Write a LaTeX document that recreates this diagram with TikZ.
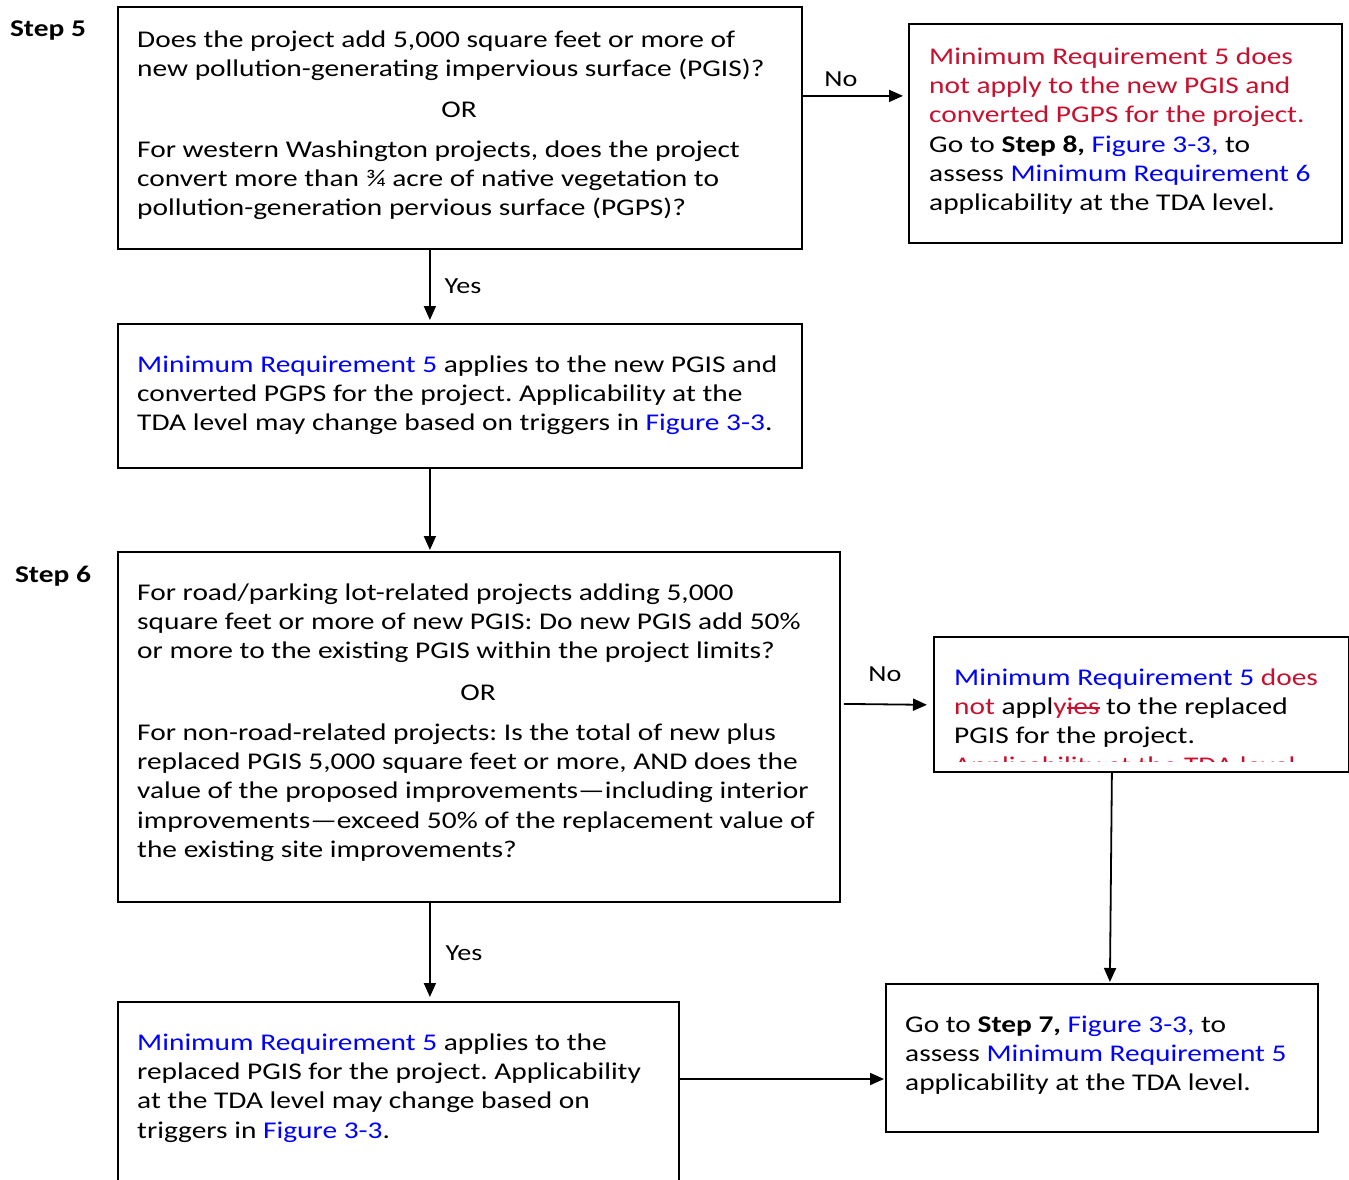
\documentclass[tikz,border=0pt]{standalone}
\usepackage{fontspec}
\setmainfont{Carlito}[FakeStretch=1.225]
\usetikzlibrary{arrows.meta,calc}
\definecolor{mrblue}{RGB}{0,0,255}
\definecolor{mrred}{RGB}{200,16,46}
\newcommand\bl[1]{\textcolor{mrblue}{#1}}
\newcommand\rd[1]{\textcolor{mrred}{#1}}
\newcommand\strk[1]{\setbox0\hbox{#1}\rlap{\rule[6pt]{\wd0}{1.2pt}}\box0}
\newcommand\fs{\rule{0pt}{20pt}}
\frenchspacing
\begin{document}
\frenchspacing
\begin{tikzpicture}[x=1pt,y=-1pt,
  box/.style={draw,line width=1.8pt,inner sep=0,anchor=north west},
  txt/.style={anchor=north west,inner sep=0,align=left,font=\fontsize{24}{29.3}\selectfont},
  ortxt/.style={anchor=base,inner sep=0,font=\fontsize{24}{29.3}\selectfont},
  lbl/.style={inner sep=0,font=\fontsize{23}{28}\selectfont},
  steplbl/.style={inner sep=0,font=\fontsize{24}{28}\selectfont\bfseries},
  arr/.style={-{Triangle[length=14pt,width=12pt]},line width=1.8pt}]
\clip (0,0) rectangle (1349,1180);
\useasboundingbox (0,0) rectangle (1349,1180);
% Step 5
\node[steplbl] (s5) at (48,31) {Step 5};
\node[box,minimum width=684pt,minimum height=242pt] (b1) at (117,6) {};
\node[txt] (t1a) at (137,27) {\fs Does the project add 5,000 square feet or more of\\new pollution-generating impervious surface (PGIS)?};
\node[ortxt] (t1or) at (459,118) {OR};
\node[txt] (t1b) at (137,137) {\fs For western Washington projects, does the project\\convert more than ¾ acre of native vegetation to\\pollution-generation pervious surface (PGPS)?};
\node[box,minimum width=433pt,minimum height=219pt] (b2) at (908,23) {};
\node[txt] (t2) at (929,44) {\fs\rd{Minimum Requirement 5 does}\\\rd{not apply to the new PGIS and}\\\rd{converted PGPS for the project.}\\Go to \textbf{Step 8,} \bl{Figure 3-3,} to\\assess \bl{Minimum Requirement 6}\\applicability at the TDA level.};
\node[box,minimum width=684pt,minimum height=144pt] (b3) at (117,323) {};
\node[txt] (t3) at (137,352) {\fs\bl{Minimum Requirement 5} applies to the new PGIS and\\converted PGPS for the project. Applicability at the\\TDA level may change based on triggers in \bl{Figure 3-3}.};
% Step 6
\node[steplbl] (s6) at (53,576) {Step 6};
\node[box,minimum width=722pt,minimum height=350pt] (b4) at (117,551) {};
\node[txt] (t4a) at (137,580) {\fs For road/parking lot-related projects adding 5,000\\square feet or more of new PGIS: Do new PGIS add 50\%\\or more to the existing PGIS within the project limits?};
\node[ortxt] (t4or) at (478,700) {OR};
\node[txt] (t4b) at (137,720) {\fs For non-road-related projects: Is the total of new plus\\replaced PGIS 5,000 square feet or more, AND does the\\value of the proposed improvements—including interior\\improvements—exceed 50\% of the replacement value of\\the existing site improvements?};
\node[box,minimum width=415pt,minimum height=135pt] (b5) at (933,636) {};
\begin{scope}
\clip (935,638) rectangle (1346,761);
\node[txt] (t5) at (954,665) {\fs\bl{Minimum Requirement 5} \rd{does}\\\rd{not} appl\rd{y\strk{ies}} to the replaced\\PGIS for the project.\\\rd{Applicability at the TDA level}};
\end{scope}
\node[box,minimum width=432pt,minimum height=148pt] (b6) at (885,983) {};
\node[txt] (t6) at (905,1012) {\fs Go to \textbf{Step 7,} \bl{Figure 3-3,} to\\assess \bl{Minimum Requirement 5}\\applicability at the TDA level.};
\node[box,minimum width=561pt,minimum height=220pt] (b7) at (117,1001) {};
\node[txt] (t7) at (137,1030) {\fs\bl{Minimum Requirement 5} applies to the\\replaced PGIS for the project. Applicability\\at the TDA level may change based on\\triggers in \bl{Figure 3-3}.};
% connectors
\draw[arr,shorten >=5pt] ([yshift=32pt]b1.east) -- ([yshift=32pt]b1.east -| b2.west);
\node[lbl] (no1) at (841,79) {No};
\draw[arr,shorten >=3pt] ([xshift=-30pt]b1.south) -- ([xshift=-30pt]b1.south |- b3.north);
\node[lbl] (yes1) at (463,286) {Yes};
\draw[arr,shorten >=1pt] ([xshift=-30pt]b3.south) -- ([xshift=-30pt]b3.south |- b4.north);
\draw[arr,shorten >=6pt] ([xshift=3pt,yshift=23pt]b4.east) -- ([yshift=22pt]b4.east -| b5.west);
\node[lbl] (no2) at (885,674) {No};
\draw[arr,shorten >=1pt] ([xshift=-29.5pt]b5.south) -- ([xshift=8pt]b6.north);
\draw[arr,shorten >=4pt] ([xshift=-49pt]b4.south) -- ([xshift=-49pt]b4.south |- b7.north);
\node[lbl] (yes2) at (464,953) {Yes};
\draw[arr,shorten >=1pt] ([yshift=-78pt]b7.north east) -- ([yshift=-78pt]b7.north east -| b6.west);
\end{tikzpicture}
\end{document}
